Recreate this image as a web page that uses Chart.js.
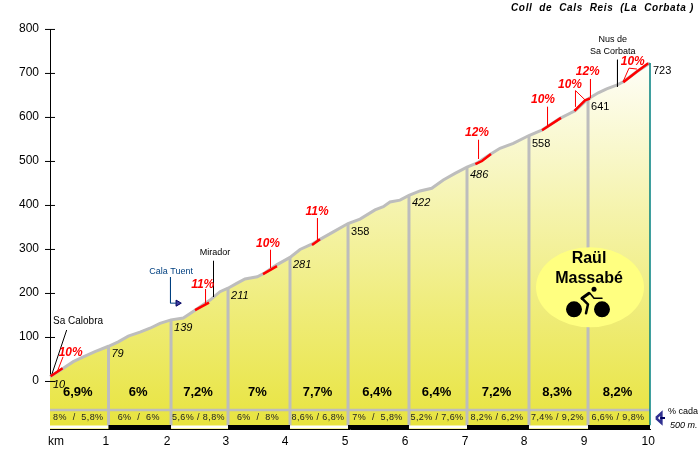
<!DOCTYPE html>
<html>
<head>
<meta charset="utf-8">
<title>Coll de Cals Reis</title>
<script src="https://cdn.jsdelivr.net/npm/chart.js@4"></script>
<style>
body { margin: 0; background: #fff; }
</style>
</head>
<body>
<canvas id="profile-chart" width="700" height="460"></canvas>
<script>
// profile: km and metres
const profileKm = [0, 0.222, 0.388, 0.555, 0.75, 0.975, 1.138, 1.305, 1.5, 1.667, 1.833, 2.017, 2.222, 2.417, 2.667, 2.833, 2.967, 3.112, 3.25, 3.455, 3.583, 3.778, 4, 4.167, 4.362, 4.5, 4.722, 4.967, 5.167, 5.417, 5.555, 5.667, 5.833, 5.983, 6.167, 6.362, 6.555, 6.75, 6.95, 7.112, 7.333, 7.5, 7.722, 7.983, 8.195, 8.5, 8.75, 8.967, 9.138, 9.278, 9.455, 9.555, 9.778, 10];
const profileElev = [10, 29, 44, 55, 67, 79, 89, 102, 111, 120, 131, 139, 143, 161, 184, 203, 211, 222, 232, 237, 246, 264, 281, 299, 311, 322, 339, 358, 368, 389, 396, 407, 411, 422, 432, 438, 457, 472, 486, 495, 515, 529, 540, 558, 570, 597, 614, 641, 655, 664, 673, 680, 703, 723];

// the kilometre posts with their heights
const markKm = [0, 0.975, 2.017, 2.967, 4, 4.967, 5.983, 6.95, 7.983, 8.967, 10];
const markElev = [10, 79, 139, 211, 281, 358, 422, 486, 558, 641, 723];
const markNames = ['10', '79', '139', '211', '281', '358', '422', '486', '558', '641', '723'];

const avgGrades = ['6,9%', '6%', '7,2%', '7%', '7,7%', '6,4%', '6,4%', '7,2%', '8,3%', '8,2%'];
const halfGrades = ['8%  /  5,8%', '6%  /  6%', '5,6% / 8,8%', '6%  /  8%', '8,6% / 6,8%', '7%  /  5,8%', '5,2% / 7,6%', '8,2% / 6,2%', '7,4% / 9,2%', '6,6% / 9,8%'];

// steep stretches in red
const steepRuns = [
    [[0.01, 11], [0.21, 29]],
    [[2.417, 161], [2.65, 178]],
    [[3.55, 243], [3.783, 261]],
    [[4.367, 309], [4.5, 322]],
    [[7.09, 493], [7.2, 500], [7.35, 516]],
    [[8.2, 570], [8.517, 598]],
    [[8.74, 614], [8.917, 638], [9, 642]],
    [[9.555, 679], [9.778, 703], [9.97, 722]]
];
const steepLeaders = [
    [[0.217, 55], [0.117, 20]],
    [[2.592, 209], [2.592, 175]],
    [[3.675, 298], [3.675, 257]],
    [[4.458, 370], [4.458, 320]],
    [[7.142, 548], [7.142, 505]],
    [[8.292, 623], [8.292, 577]],
    [[8.758, 623], [8.758, 660], [8.917, 639]],
    [[9.008, 686], [9.008, 643]],
    [[9.55, 680], [9.65, 711], [9.783, 709]]
];
const steepNames = ['10%', '11%', '10%', '11%', '12%', '10%', '10%', '12%', '10%'];
const steepNameKm = [0.345, 2.545, 3.633, 4.45, 7.117, 8.217, 8.667, 8.962, 9.712];
const steepNameElev = [64, 220, 311, 384, 564, 639, 673, 702, 725];

const placeLeaders = [
    [[0.278, 116], [0.028, 14]],
    [[2.725, 273], [2.725, 191]],
    [[9.458, 730], [9.458, 669]]
];
const placeNames = ['Sa Calobra', 'Mirador', 'Nus de', 'Sa Corbata'];
const placeNameKm = [0.467, 2.75, 9.378, 9.378];
const placeNameElev = [136, 291, 775, 748];

const yTicks = [800, 700, 600, 500, 400, 300, 200, 100, 0];
const xTickKm = [0.1, 0.93, 1.95, 2.93, 3.92, 4.92, 5.92, 6.92, 7.9, 8.9, 9.97];
const xTickNames = ['km', '1', '2', '3', '4', '5', '6', '7', '8', '9', '10'];

const rowLineElev = -66;
const barElev = -104.5;
const axisBottom = -109;

function points(kmList, elevList) {
    return kmList.map((km, i) => ({ x: km, y: elevList[i] }));
}

// several polylines in one dataset, split with empty points
function polylines(lines) {
    const out = [];
    lines.forEach(line => {
        line.forEach(p => out.push({ x: p[0], y: p[1] }));
        out.push({ x: line[line.length - 1][0], y: null });
    });
    return out;
}

function lineSet(data, color, width, extra) {
    return Object.assign({
        data: data,
        borderColor: color,
        borderWidth: width,
        pointRadius: 0,
        tension: 0,
        fill: false,
        clip: false
    }, extra || {});
}

const posts = [];
for (let i = 1; i < markKm.length - 1; i++) {
    posts.push([[markKm[i], markElev[i]], [markKm[i], barElev + 2]]);
}

const whiteBar = [];
const blackBar = [];
for (let i = 0; i < markKm.length - 1; i++) {
    (i % 2 === 0 ? whiteBar : blackBar).push([[markKm[i], barElev], [markKm[i + 1], barElev]]);
}

function yellowFill(context) {
    const area = context.chart.chartArea;
    if (!area) return '#eeea60';
    const g = context.chart.ctx.createLinearGradient(0, area.top + 20, 0, area.bottom - 5);
    g.addColorStop(0, '#ffffff');
    g.addColorStop(1, '#e8e440');
    return g;
}

function drawCyclist(c, x, y) {
    c.fillStyle = '#000';
    c.strokeStyle = '#000';
    c.lineCap = 'round';
    c.lineJoin = 'round';
    c.beginPath();
    c.arc(x - 16, y + 22, 8, 0, Math.PI * 2);
    c.arc(x + 12, y + 22, 8, 0, Math.PI * 2);
    c.fill();
    c.beginPath();
    c.arc(x + 4, y + 2, 2.5, 0, Math.PI * 2);
    c.fill();
    c.lineWidth = 3;
    c.beginPath();
    c.moveTo(x - 8, y + 11);
    c.lineTo(x - 1, y + 6);
    c.stroke();
    c.lineWidth = 1.5;
    c.beginPath();
    c.moveTo(x, y + 6);
    c.lineTo(x + 4, y + 11);
    c.lineTo(x + 12, y + 11);
    c.stroke();
    c.lineWidth = 2.5;
    c.beginPath();
    c.moveTo(x - 8, y + 11);
    c.lineTo(x - 2, y + 17);
    c.lineTo(x - 4, y + 26);
    c.stroke();
}

const textPlugin = {
    id: 'profileTexts',
    afterDatasetsDraw(chart) {
        const c = chart.ctx;
        const sx = chart.scales.x;
        const sy = chart.scales.y;
        const put = (text, x, y, font, color, align) => {
            c.font = font;
            c.fillStyle = color;
            c.textAlign = align || 'center';
            c.textBaseline = 'middle';
            c.fillText(text, x, y);
        };
        c.save();

        markNames.forEach((name, i) => {
            const plain = ['358', '558', '641', '723'].includes(name);
            put(name, sx.getPixelForValue(markKm[i]) + 3, sy.getPixelForValue(markElev[i]) + 8,
                (plain ? '' : 'italic ') + '11px "Liberation Sans"', '#000', 'left');
        });
        steepNames.forEach((name, i) => {
            put(name, sx.getPixelForValue(steepNameKm[i]), sy.getPixelForValue(steepNameElev[i]),
                'italic bold 12px "Liberation Sans"', '#ff0000');
        });
        placeNames.forEach((name, i) => {
            const size = name === 'Sa Calobra' ? 10 : 9;
            put(name, sx.getPixelForValue(placeNameKm[i]), sy.getPixelForValue(placeNameElev[i]),
                size + 'px "Liberation Sans"', '#000');
        });
        put('Cala Tuent', sx.getPixelForValue(2.02), sy.getPixelForValue(250), '9px "Liberation Sans"', '#004080');

        avgGrades.forEach((name, i) => {
            const mid = (markKm[i] + markKm[i + 1]) / 2;
            put(name, sx.getPixelForValue(mid) - 1.5, sy.getPixelForValue(-27), 'bold 13px "Liberation Sans"', '#000');
        });
        c.letterSpacing = '0.4px';
        halfGrades.forEach((name, i) => {
            const mid = (markKm[i] + markKm[i + 1]) / 2;
            put(name, sx.getPixelForValue(mid) - 1, sy.getPixelForValue(-83), '9px "Liberation Sans"', '#222');
        });
        c.letterSpacing = '0px';

        // title and the side note
        c.letterSpacing = '0.65px';
        put('Coll  de  Cals  Reis  (La  Corbata )', 511, 8, 'italic bold 10px "Liberation Sans"', '#000', 'left');
        c.letterSpacing = '0px';
        put('% cada', 668, 412, '9px "Liberation Sans"', '#000', 'left');
        put('500 m.', 670, 425, 'italic 9px "Liberation Sans"', '#000', 'left');

        // author badge
        const bx = sx.getPixelForValue(9);
        const by = sy.getPixelForValue(213);
        c.fillStyle = '#ffff80';
        c.beginPath();
        c.ellipse(bx, by, 54, 40, 0, 0, Math.PI * 2);
        c.fill();
        put('Raül', bx - 1, by - 29, 'bold 16px "Liberation Sans"', '#000');
        put('Massabé', bx - 1, by - 9, 'bold 16px "Liberation Sans"', '#000');
        drawCyclist(c, bx, by);
        c.restore();
    }
};

new Chart(document.getElementById('profile-chart'), {
    type: 'line',
    data: {
        datasets: [
            // tick marks cross the axis; 1 m down so they land on a whole pixel row
            lineSet(yTicks.map(v => ({ x: 0, y: v - 1 })), '#000', 1, { showLine: false, pointStyle: 'line', pointRadius: 5, pointBorderColor: '#000', pointBorderWidth: 1 }),
            lineSet(polylines(steepRuns), '#ff0000', 2.5),
            lineSet(polylines(steepLeaders), '#ff0000', 1),
            lineSet(polylines(placeLeaders), '#000', 1),
            // Cala Tuent pointer
            lineSet(points([2.008, 2.008, 2.1], [236, 177, 177]), '#004080', 1),
            lineSet(points([2.13], [177]), '#000060', 1, { showLine: false, pointStyle: 'triangle', pointRadius: 3.5, pointRotation: 90, pointBackgroundColor: '#4040a0', pointBorderColor: '#000060' }),
            // note arrow to the right of the plot
            lineSet(polylines([[[10.25, -84], [10.17, -84]]]), '#000060', 2),
            lineSet(polylines([[[10.1, -84], [10.19, -73], [10.19, -95], [10.1, -84]]]), '#303090', 2.5),
            lineSet(polylines(blackBar), '#000', 4),
            lineSet(polylines(whiteBar), '#fff', 3),
            lineSet(polylines([[[markKm[10], markElev[10]], [markKm[10], barElev + 4]]]), '#008080', 1.5),
            lineSet(polylines(posts), '#bdbdbd', 3),
            lineSet(polylines([[[0, rowLineElev], [10, rowLineElev]]]), '#bdbdbd', 2.5),
            lineSet(points(profileKm, profileElev), '#bdbdbd', 3, { fill: 'start', backgroundColor: yellowFill })
        ]
    },
    options: {
        responsive: false,
        animation: false,
        events: [],
        layout: { padding: { left: 0, top: 29, right: 50, bottom: 10 } },
        plugins: {
            legend: { display: false },
            tooltip: { enabled: false },
            title: { display: false }
        },
        scales: {
            x: {
                type: 'linear',
                min: 0,
                max: 10,
                grid: { display: false, drawTicks: false },
                border: { display: true, color: '#000' },
                afterFit: scale => { scale.height = 21; },
                afterBuildTicks: scale => { scale.ticks = xTickKm.map(v => ({ value: v })); },
                ticks: {
                    autoSkip: false,
                    maxRotation: 0,
                    padding: 5,
                    color: '#000',
                    font: { family: '"Liberation Sans"', size: 12 },
                    callback: (value, index) => xTickNames[index]
                }
            },
            y: {
                min: axisBottom,
                max: 800,
                grid: { display: false, drawTicks: false },
                border: { display: true, color: '#000' },
                afterFit: scale => { scale.width = 50; },
                afterBuildTicks: scale => { scale.ticks = yTicks.map(v => ({ value: v })); },
                ticks: {
                    padding: 11,
                    color: '#000',
                    font: { family: '"Liberation Sans"', size: 12 }
                }
            }
        }
    },
    plugins: [textPlugin]
});
</script>
</body>
</html>
